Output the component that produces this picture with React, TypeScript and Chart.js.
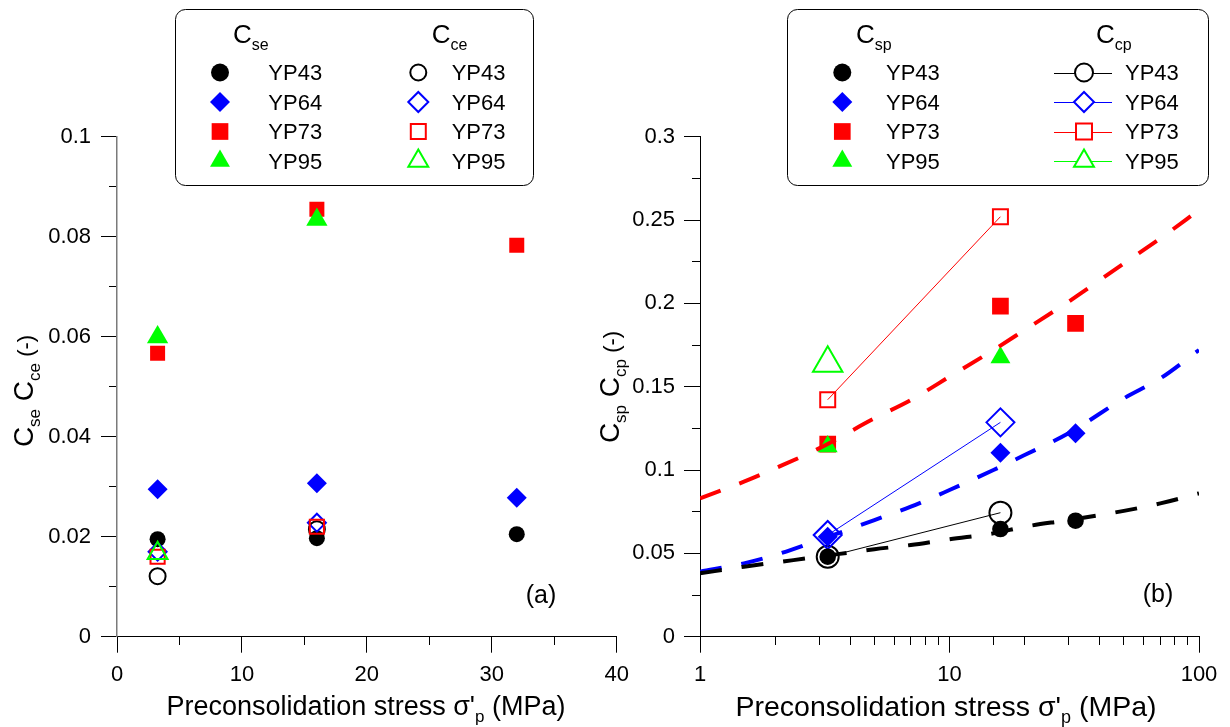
import React, { useEffect, useRef } from 'react';
import { Chart, registerables } from 'chart.js';

Chart.register(...registerables);

const FF = '"Liberation Sans", Arial, Helvetica, sans-serif';

// ---------------- Panel (a) data ----------------
const stressA = [3.25, 16, 32];
const stressPair = [3.25, 16];
const cseYP43 = [0.0195, 0.0197, 0.0205];
const cseYP64 = [0.0295, 0.0307, 0.0278];
const cseYP73 = [0.0567, 0.0855, 0.0783];
const cseYP95 = [0.0599, 0.0834];
const cceYP43 = [0.0121, 0.0215];
const cceYP64 = [0.017, 0.0228];
const cceYP73 = [0.016, 0.022];
const cceYP95 = [0.0167];

// ---------------- Panel (b) data ----------------
const cspYP43 = [0.048, 0.0646, 0.0696];
const cspYP64 = [0.06, 0.1104, 0.122];
const cspYP73 = [0.1156, 0.1984, 0.188];
const cspYP95 = [0.1141, 0.1675];
const ccpYP43 = [0.048, 0.0744];
const ccpYP64 = [0.061, 0.1286];
const ccpYP73 = [0.1422, 0.252];
const ccpYP95 = [0.164];
const fitStress = [1, 1.5, 2, 3, 5, 7, 10, 15, 20, 30, 50, 70, 100];
const fitYP73 = [0.083, 0.093, 0.101, 0.113, 0.131, 0.142, 0.156, 0.172, 0.184, 0.201, 0.224, 0.239, 0.256];
const fitYP64 = [0.039, 0.044, 0.049, 0.058, 0.07, 0.078, 0.088, 0.1, 0.109, 0.122, 0.143, 0.155, 0.172];
const fitYP43 = [0.038, 0.042, 0.0445, 0.048, 0.0525, 0.055, 0.0585, 0.062, 0.066, 0.07, 0.0755, 0.08, 0.086];

// ---------------- Tick labels ----------------
const xLabelsA = [0, 10, 20, 30, 40];
const yLabelsA = [0, 0.02, 0.04, 0.06, 0.08, 0.1];
const xLabelsB = [1, 10, 100];
const yLabelsB = [0, 0.05, 0.1, 0.15, 0.2, 0.25, 0.3];

const samples = ['YP43', 'YP64', 'YP73', 'YP95'];
const COLORS = ['#000000', '#0000ff', '#ff0000', '#00ff00'];
const STYLES = ['circle', 'rectRot', 'rect', 'triangle'];

const pts = (xs: number[], ys: number[]) => ys.map((y, i) => ({ x: xs[i], y }));
const near = (v: number, list: number[], tol: number) => list.find((l) => Math.abs(l - v) < tol);
const fmt = (v: number) => String(parseFloat(v.toFixed(3)));

type Seg = { t: string; size: number; dy?: number };

function drawRich(ctx: CanvasRenderingContext2D, segs: Seg[], x: number, y: number, align: 'left' | 'center', rotate = false) {
  ctx.save();
  ctx.translate(x, y);
  if (rotate) ctx.rotate(-Math.PI / 2);
  let total = 0;
  for (const s of segs) {
    ctx.font = `${s.size}px ${FF}`;
    total += ctx.measureText(s.t).width;
  }
  let cx = align === 'center' ? -total / 2 : 0;
  ctx.fillStyle = '#000';
  ctx.textAlign = 'left';
  ctx.textBaseline = 'alphabetic';
  for (const s of segs) {
    ctx.font = `${s.size}px ${FF}`;
    ctx.fillText(s.t, cx, s.dy || 0);
    cx += ctx.measureText(s.t).width;
  }
  ctx.restore();
}

function marker(ctx: CanvasRenderingContext2D, style: string, x: number, y: number, r: number, fill: string | null, stroke: string | null, lw: number) {
  ctx.save();
  ctx.beginPath();
  if (style === 'circle') {
    ctx.arc(x, y, r, 0, Math.PI * 2);
  } else if (style === 'rect') {
    const s = r * Math.SQRT1_2;
    ctx.rect(x - s, y - s, 2 * s, 2 * s);
  } else if (style === 'rectRot') {
    ctx.moveTo(x - r, y);
    ctx.lineTo(x, y - r);
    ctx.lineTo(x + r, y);
    ctx.lineTo(x, y + r);
    ctx.closePath();
  } else {
    ctx.moveTo(x, y - r);
    ctx.lineTo(x + 0.866 * r, y + 0.5 * r);
    ctx.lineTo(x - 0.866 * r, y + 0.5 * r);
    ctx.closePath();
  }
  if (fill) {
    ctx.fillStyle = fill;
    ctx.fill();
  }
  if (stroke) {
    ctx.strokeStyle = stroke;
    ctx.lineWidth = lw;
    ctx.stroke();
  }
  ctx.restore();
}

function roundBox(ctx: CanvasRenderingContext2D, x: number, y: number, w: number, h: number, r: number) {
  ctx.save();
  ctx.beginPath();
  ctx.moveTo(x + r, y);
  ctx.arcTo(x + w, y, x + w, y + h, r);
  ctx.arcTo(x + w, y + h, x, y + h, r);
  ctx.arcTo(x, y + h, x, y, r);
  ctx.arcTo(x, y, x + w, y, r);
  ctx.closePath();
  ctx.fillStyle = '#ffffff';
  ctx.fill();
  ctx.strokeStyle = '#000';
  ctx.lineWidth = 1;
  ctx.stroke();
  ctx.restore();
}

const legendRows = [72.5, 102, 131.5, 161];

const filled = (i: number, xs: number[], ys: number[], r: number, label: string) => ({
  label,
  data: pts(xs, ys),
  pointStyle: STYLES[i],
  pointRadius: r,
  pointBackgroundColor: COLORS[i],
  pointBorderColor: COLORS[i],
  pointBorderWidth: 0,
  showLine: false,
});

const open = (i: number, xs: number[], ys: number[], r: number, label: string, line: boolean) => ({
  label,
  data: pts(xs, ys),
  pointStyle: STYLES[i],
  pointRadius: r,
  pointBackgroundColor: 'rgba(0,0,0,0)',
  pointBorderColor: COLORS[i],
  pointBorderWidth: 2,
  borderColor: COLORS[i],
  borderWidth: 1,
  showLine: line,
});

const fitLine = (i: number, ys: number[], label: string) => ({
  label,
  data: pts(fitStress, ys),
  pointRadius: 0,
  borderColor: COLORS[i],
  borderWidth: 4,
  borderDash: [22, 20],
  showLine: true,
  cubicInterpolationMode: 'monotone',
});

const tickFont = { family: FF, size: 22 };

function gridOpts(isMajor: (v: number) => boolean, outerFirst: boolean) {
  return {
    drawOnChartArea: false,
    drawTicks: true,
    tickLength: 16,
    tickColor: '#000',
    tickWidth: 1,
    tickBorderDash: (c: any) => (c.tick && isMajor(c.tick.value) ? [] : outerFirst ? [0, 8, 8, 100] : [8, 100]),
  };
}

function makeChartA(canvas: HTMLCanvasElement) {
  const overlay = {
    id: 'overlayA',
    afterDraw(chart: any) {
      const ctx = chart.ctx as CanvasRenderingContext2D;
      drawRich(ctx, [
        { t: 'C', size: 28 }, { t: 'se', size: 17, dy: 7 },
        { t: ' C', size: 28 }, { t: 'ce', size: 17, dy: 7 },
        { t: ' (-)', size: 22 },
      ], 33, 391, 'center', true);
      drawRich(ctx, [
        { t: "Preconsolidation stress σ'", size: 27 }, { t: 'p', size: 17, dy: 7 }, { t: ' (MPa)', size: 27 },
      ], 366, 715, 'center');
      drawRich(ctx, [{ t: '(a)', size: 25 }], 541, 603, 'center');
      roundBox(ctx, 175.5, 9.5, 358, 176, 10);
      drawRich(ctx, [{ t: 'C', size: 26 }, { t: 'se', size: 16, dy: 6.7 }], 233, 43.3, 'left');
      drawRich(ctx, [{ t: 'C', size: 26 }, { t: 'ce', size: 16, dy: 6.7 }], 431.7, 43.3, 'left');
      const rf = [9, 10, 11.8, 11.5];
      const ro = [8, 10, 10.6, 11.5];
      legendRows.forEach((ry, i) => {
        marker(ctx, STYLES[i], 220, ry, rf[i], COLORS[i], null, 0);
        drawRich(ctx, [{ t: samples[i], size: 22 }], 268.3, ry + 7.8, 'left');
        marker(ctx, STYLES[i], 418.3, ry, ro[i], null, COLORS[i], 2);
        drawRich(ctx, [{ t: samples[i], size: 22 }], 451.7, ry + 7.8, 'left');
      });
    },
  };
  const majX = (v: number) => near(v, xLabelsA, 1e-6) !== undefined;
  const majY = (v: number) => near(v, yLabelsA, 1e-7) !== undefined;
  return new Chart(canvas, {
    type: 'scatter',
    data: {
      datasets: [
        open(3, stressPair, cceYP95, 11.5, 'Cce YP95', false),
        open(2, stressPair, cceYP73, 10, 'Cce YP73', false),
        open(1, stressPair, cceYP64, 9, 'Cce YP64', false),
        open(0, stressPair, cceYP43, 8, 'Cce YP43', false),
        filled(3, stressA, cseYP95, 12.3, 'Cse YP95'),
        filled(2, stressA, cseYP73, 10.6, 'Cse YP73'),
        filled(1, stressA, cseYP64, 10, 'Cse YP64'),
        filled(0, stressA, cseYP43, 8, 'Cse YP43'),
      ] as any,
    },
    options: {
      animation: false,
      responsive: false,
      events: [],
      layout: { padding: { left: 0, right: 640 - 616.7, top: 136.7, bottom: 727 - 636.7 - 60 } },
      plugins: { legend: { display: false }, tooltip: { enabled: false } },
      scales: {
        x: {
          type: 'linear',
          min: 0,
          max: 40,
          border: { color: '#000', width: 1 },
          grid: gridOpts(majX, false),
          ticks: {
            stepSize: 5,
            autoSkip: false,
            maxRotation: 0,
            padding: 9,
            color: '#000',
            font: tickFont,
            callback: (v: any) => (majX(Number(v)) ? fmt(Number(v)) : ''),
          },
          afterFit: (s: any) => { s.height = 60; },
        },
        y: {
          type: 'linear',
          min: 0,
          max: 0.1,
          border: { color: '#7a7a7a', width: 1.5 },
          grid: gridOpts(majY, true),
          ticks: {
            stepSize: 0.01,
            autoSkip: false,
            padding: 10,
            color: '#000',
            font: tickFont,
            callback: (v: any) => (majY(Number(v)) ? fmt(Number(v)) : ''),
          },
          afterFit: (s: any) => { s.width = 117; },
        },
      },
    } as any,
    plugins: [overlay],
  });
}

function makeChartB(canvas: HTMLCanvasElement) {
  const OX = 600;
  const overlay = {
    id: 'overlayB',
    afterDraw(chart: any) {
      const ctx = chart.ctx as CanvasRenderingContext2D;
      drawRich(ctx, [
        { t: 'C', size: 28 }, { t: 'sp', size: 17, dy: 7 },
        { t: ' C', size: 28 }, { t: 'cp', size: 17, dy: 7 },
        { t: ' (-)', size: 22 },
      ], 619 - OX, 387, 'center', true);
      drawRich(ctx, [
        { t: "Preconsolidation stress σ'", size: 28.5 }, { t: 'p', size: 18, dy: 7 }, { t: ' (MPa)', size: 28.5 },
      ], 946 - OX, 716, 'center');
      drawRich(ctx, [{ t: '(b)', size: 25 }], 1158 - OX, 602, 'center');
      roundBox(ctx, 787.5 - OX, 9.5, 421, 176, 10);
      drawRich(ctx, [{ t: 'C', size: 26 }, { t: 'sp', size: 16, dy: 6.7 }], 856 - OX, 43.3, 'left');
      drawRich(ctx, [{ t: 'C', size: 26 }, { t: 'cp', size: 16, dy: 6.7 }], 1096 - OX, 43.3, 'left');
      const rf = [9, 10, 11.8, 11.5];
      const ro = [9, 10, 11.3, 11.5];
      legendRows.forEach((ry, i) => {
        marker(ctx, STYLES[i], 842.3 - OX, ry, rf[i], COLORS[i], null, 0);
        drawRich(ctx, [{ t: samples[i], size: 22 }], 886 - OX, ry + 7.8, 'left');
        ctx.save();
        ctx.strokeStyle = COLORS[i];
        ctx.lineWidth = 1;
        ctx.beginPath();
        ctx.moveTo(1054 - OX, Math.round(ry) + 0.5);
        ctx.lineTo(1112 - OX, Math.round(ry) + 0.5);
        ctx.stroke();
        ctx.restore();
        marker(ctx, STYLES[i], 1084 - OX, ry, ro[i], '#ffffff', COLORS[i], 2);
        drawRich(ctx, [{ t: samples[i], size: 22 }], 1125 - OX, ry + 7.8, 'left');
      });
    },
  };
  const majX = (v: number) => near(v, xLabelsB, 1e-6) !== undefined;
  const majY = (v: number) => near(v, yLabelsB, 1e-7) !== undefined;
  return new Chart(canvas, {
    type: 'scatter',
    data: {
      datasets: [
        fitLine(0, fitYP43, 'fit YP43'),
        fitLine(1, fitYP64, 'fit YP64'),
        fitLine(2, fitYP73, 'fit YP73'),
        filled(3, stressA, cspYP95, 11.5, 'Csp YP95'),
        filled(2, stressA, cspYP73, 11.8, 'Csp YP73'),
        filled(1, stressA, cspYP64, 10, 'Csp YP64'),
        filled(0, stressA, cspYP43, 8.3, 'Csp YP43'),
        open(3, stressPair, ccpYP95, 17, 'Ccp YP95', true),
        open(2, stressPair, ccpYP73, 10.6, 'Ccp YP73', true),
        open(1, stressPair, ccpYP64, 14, 'Ccp YP64', true),
        open(0, stressPair, ccpYP43, 11, 'Ccp YP43', true),
      ] as any,
    },
    options: {
      animation: false,
      responsive: false,
      events: [],
      layout: { padding: { left: 0, right: 630 - 599, top: 136.7, bottom: 727 - 636.7 - 60 } },
      plugins: { legend: { display: false }, tooltip: { enabled: false } },
      scales: {
        x: {
          type: 'logarithmic',
          min: 1,
          max: 100,
          border: { color: '#000', width: 1 },
          grid: gridOpts(majX, false),
          ticks: {
            autoSkip: false,
            maxRotation: 0,
            padding: 9,
            color: '#000',
            font: tickFont,
            callback: (v: any) => (majX(Number(v)) ? fmt(Number(v)) : ''),
          },
          afterFit: (s: any) => { s.height = 60; },
        },
        y: {
          type: 'linear',
          min: 0,
          max: 0.3,
          border: { color: '#000', width: 1 },
          grid: gridOpts(majY, true),
          ticks: {
            stepSize: 0.025,
            autoSkip: false,
            padding: 9,
            color: '#000',
            font: tickFont,
            callback: (v: any) => (majY(Number(v)) ? fmt(Number(v)) : ''),
          },
          afterFit: (s: any) => { s.width = 100; },
        },
      },
    } as any,
    plugins: [overlay],
  });
}

export default function App() {
  const refA = useRef<HTMLCanvasElement>(null);
  const refB = useRef<HTMLCanvasElement>(null);
  useEffect(() => {
    const a = makeChartA(refA.current!);
    const b = makeChartB(refB.current!);
    return () => {
      a.destroy();
      b.destroy();
    };
  }, []);
  return (
    <div style={{ position: 'absolute', left: 0, top: 0, width: 1230, height: 727, background: '#fff', overflow: 'hidden' }}>
      <canvas ref={refA} width={640} height={727} style={{ position: 'absolute', left: 0, top: 0, width: 640, height: 727 }} />
      <canvas ref={refB} width={630} height={727} style={{ position: 'absolute', left: 600, top: 0, width: 630, height: 727 }} />
    </div>
  );
}
